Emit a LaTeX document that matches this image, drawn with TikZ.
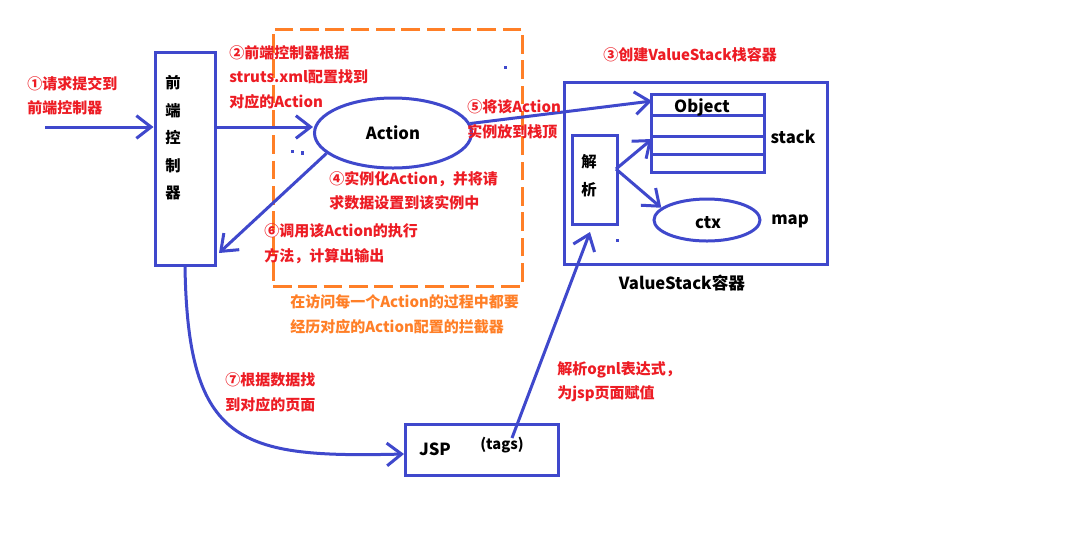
\documentclass[tikz,border=0pt]{standalone}
\usepackage{fontspec}
\usetikzlibrary{arrows.meta,shapes.geometric}
\newfontfamily\cjk{Noto Sans CJK SC}
\definecolor{vblue}{HTML}{3F48CC}
\definecolor{vred}{HTML}{ED1C24}
\definecolor{vorange}{HTML}{FF7F27}
\begin{document}
\begin{tikzpicture}[x=0.75pt,y=-0.75pt,
  bl/.style={draw=vblue, line width=2.25pt},
  arr/.style={draw=vblue, line width=2.25pt, -{Straight Barb[length=11pt,width=17pt]}},
  boxn/.style={bl, rectangle, inner sep=0pt},
  lab/.style={text=vred, font=\cjk\bfseries\fontsize{11.25}{18.4}\selectfont, align=left, anchor=west, inner sep=0pt},
  olab/.style={lab, text=vorange},
  blk/.style={text=black, font=\cjk\bfseries\fontsize{12.5}{15}\selectfont, inner sep=0pt},
  vch/.style={text=black, font=\cjk\bfseries\fontsize{11.5}{20.6}\selectfont, align=center, inner sep=0pt}]
\useasboundingbox (0,0) rectangle (1073,537);
\fill[white] (0,0) rectangle (1073,537);

% orange dashed frame
\node[draw=vorange, line width=2.25pt, dash pattern=on 14pt off 5pt, rectangle, minimum width=186.75pt, minimum height=192.75pt, inner sep=0pt] (frame) at (397.5,157.5) {};

% front controller
\node[boxn, minimum width=45pt, minimum height=159.75pt] (fc) at (185,159) {};
\node[vch] (fctext) at (173,138) {前\\端\\控\\制\\器};

% Action ellipse
\node[bl, ellipse, minimum width=117.75pt, minimum height=52.5pt, inner sep=0pt, font=\cjk\bfseries\fontsize{12.5}{15}\selectfont] (action) at (393,133) {Action};

% ValueStack container
\node[boxn, minimum width=197.25pt, minimum height=136.5pt] (vs) at (695.5,173) {};
\node[boxn, minimum width=84.75pt, minimum height=58.5pt] (stk) at (707.5,133) {};
\draw[bl] (651,115) -- (766,115);
\draw[bl] (651,136) -- (764,136);
\draw[bl] (651,154) -- (764,154);
\node[blk] (obj) at (702,107) {Object};
\node[blk] (stacklab) at (793,137) {stack};
\node[boxn, minimum width=33.75pt, minimum height=66.75pt] (jx) at (594.5,179.5) {};
\node[vch] (jxtext) at (589,175.5) {解\\析};
\node[bl, ellipse, minimum width=79.5pt, minimum height=31.5pt, inner sep=0pt] (ctx) at (707,220) {};
\node[blk] (ctxlab) at (708,223) {ctx};
\node[blk] (maplab) at (790,221) {map};
\node[blk] (vslab) at (682,283) {ValueStack容器};

% JSP box
\node[boxn, minimum width=114.75pt, minimum height=38.25pt] (jsp) at (481.5,449.5) {};
\node[blk] (jsplab) at (435,449) {JSP};
\node[blk, font=\cjk\bfseries\fontsize{11}{13}\selectfont] (tags) at (502,445) {(tags)};

% coordinates
\coordinate (s1) at (45,127);
\coordinate (t6) at (219,253);
\coordinate (t5) at (652,101);
\coordinate (p0) at (616,169);
\coordinate (t7) at (652,139);
\coordinate (tg) at (512,438);
\coordinate (t8) at (590,232);
\coordinate (t9) at (404,454);

% connectors
\draw[arr] (s1) -- (s1 -| fc.west);
\draw[arr] (s1 -| fc.east) -- (s1 -| action.west);
\draw[arr] (action.197) -- (t6);
\draw[arr] (action.7) -- (t5);
\draw[arr] (p0) -- (t7);
\draw[arr] (p0) -- (ctx.165);
\draw[arr] (tg) -- (t8);
\draw[arr] (fc.south) .. controls (188,445) and (240,458) .. (t9);

% stray dots
\fill[vblue] (503.5,65.5) rectangle (506.5,68.5);
\fill[vblue] (290.5,149.5) rectangle (293.5,152.5);
\fill[vblue] (301,151) rectangle (304,155);
\fill[vblue] (615.5,238.5) rectangle (618.5,241.5);

% labels
\node[lab] (l1) at (27,95.5) {①请求提交到\\前端控制器};
\node[lab] (l2) at (229,77) {②前端控制器根据\\struts.xml配置找到\\对应的Action};
\node[lab] (l3) at (603,55) {③创建ValueStack栈容器};
\node[lab] (l4) at (329,190.5) {④实例化Action，并将请\\求数据设置到该实例中};
\node[lab] (l5) at (467,119) {⑤将该Action\\实例放到栈顶};
\node[lab] (l6) at (264,243.5) {⑥调用该Action的执行\\方法，计算出输出};
\node[lab] (l7) at (225,392.5) {⑦根据数据找\\到对应的页面};
\node[lab] (l8) at (557,381.5) {解析ognl表达式，\\为jsp页面赋值};
\node[olab] (l9) at (290,314.5) {在访问每一个Action的过程中都要\\经历对应的Action配置的拦截器};
\end{tikzpicture}
\end{document}
